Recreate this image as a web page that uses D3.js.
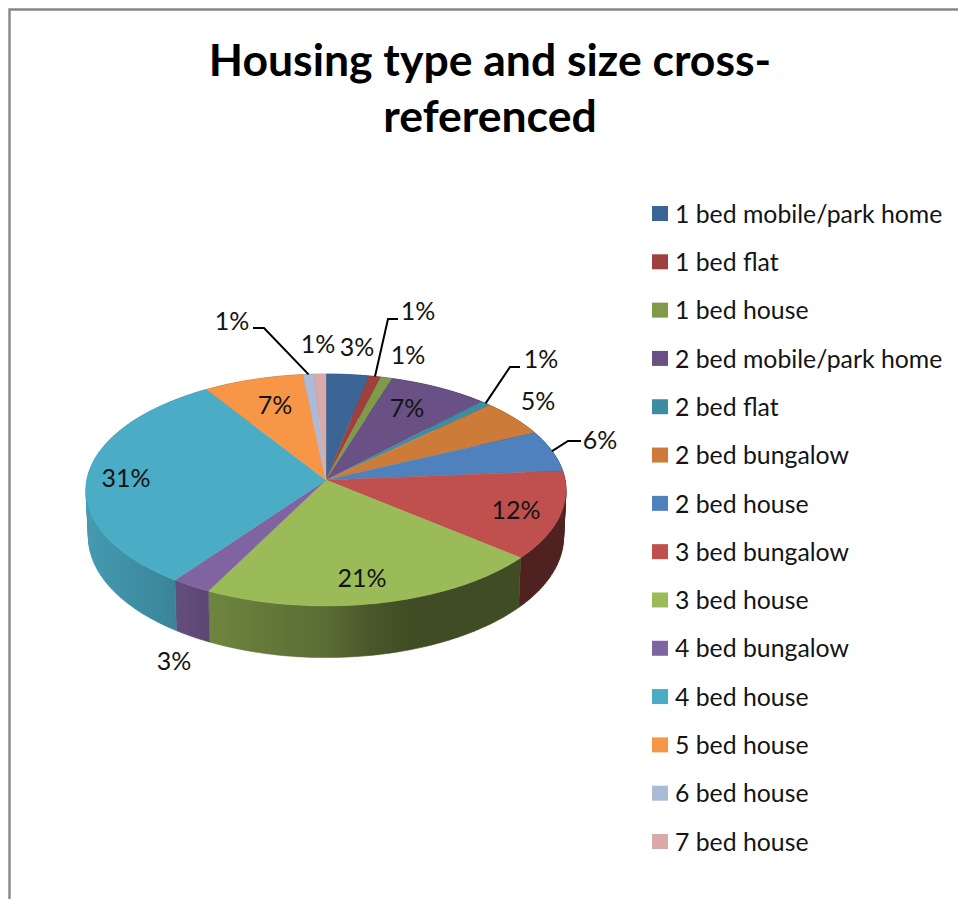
<!DOCTYPE html>
<html>
<head>
<meta charset="utf-8">
<script src="https://cdn.jsdelivr.net/npm/d3@7"></script>
<style>
  html, body { margin: 0; padding: 0; background: #fff; overflow: hidden; }
  text { font-family: Lato, "Open Sans", sans-serif; fill: #141414; }
</style>
</head>
<body>
<div id="chart"></div>
<script>
const categories = [
  "1 bed mobile/park home", "1 bed flat", "1 bed house",
  "2 bed mobile/park home", "2 bed flat", "2 bed bungalow", "2 bed house",
  "3 bed bungalow", "3 bed house", "4 bed bungalow", "4 bed house",
  "5 bed house", "6 bed house", "7 bed house"
];
const shares = [3.13, 0.87, 0.85, 7.29, 0.76, 5.09, 5.75, 12.29, 21.47, 2.5, 31.0, 7.33, 0.81, 0.86];
const colors = [
  "#3A6595", "#9E413E", "#7F9A48", "#695185", "#3C8DA3", "#CC7B38", "#4F81BD",
  "#C0504D", "#9BBB59", "#8064A2", "#4BACC6", "#F79646", "#AABAD7", "#D9AAA9"
];
const titleLines = ["Housing type and size cross-", "referenced"];

// data labels were dragged by hand in the original, so they sit in a layout table
const labelPos = [
  [357, 347], [418, 311], [408, 355], [407, 408], [541, 359], [538, 401], [600, 440],
  [516, 510], [362, 578], [174, 661], [126, 478], [275, 405], [232, 321], [318, 344]
];
// leader line elbows, keyed by slice index
const leaders = {
  1: [[388, 319], [398, 319]],
  4: [[510, 367], [520, 367]],
  6: [[568, 441], [581, 441]],
  12: [[264, 328], [253, 328]]
};

const width = 958;
const height = 899;

const svg = d3.select("#chart")
  .append("svg")
  .attr("width", width)
  .attr("height", height);

svg.append("rect").attr("width", width).attr("height", height).attr("fill", "#fff");

// chart area border, only top and left fall inside the crop
svg.append("path")
  .attr("d", `M9.5,${height} V9.5 H${width}`)
  .attr("fill", "none")
  .attr("stroke", "#868686")
  .attr("stroke-width", 2.4);

// perspective pie: the apex is not the centre of the rim ellipse
const apex = { x: 326, y: 480 };
const persp = 0.0862;
const scaleX = 239.1;
const scaleY = 115.1;

function project(t, r = 1) {
  const u = r * Math.sin(t);
  const v = r * Math.cos(t);
  const w = 1 + persp * v;
  return [apex.x + scaleX * u / w, apex.y - scaleY * v / w];
}

// rim point moved down to the bottom of the pie
function lower(p) {
  return [apex.x + (p[0] - apex.x) * 0.99, 537 + 1.04 * (p[1] - 490)];
}

function rimPoints(a) {
  const n = Math.max(2, Math.ceil((a.endAngle - a.startAngle) / 0.02));
  return d3.range(n + 1).map(i => project(a.startAngle + (a.endAngle - a.startAngle) * i / n));
}

// wall as a strip of quads so the silhouette at the far left and right stays straight
function wallPath(a) {
  const rim = rimPoints(a);
  return d3.range(rim.length - 1).map(i =>
    line([rim[i], rim[i + 1], lower(rim[i + 1]), lower(rim[i])]) + "Z"
  ).join("");
}

const line = d3.line();
const arcs = d3.pie().sort(null).value(d => d)(shares);
const total = d3.sum(shares);

// side walls get darker towards the right
const shade = [[85, 0.9], [176, 0.77], [210, 0.71], [326, 0.58], [370, 0.47], [410, 0.41], [566, 0.41]];
const defs = svg.append("defs");
const xFrac = d3.scaleLinear().domain([85, 566]).range([0, 1]);

colors.forEach((c, i) => {
  const grad = defs.append("linearGradient")
    .attr("id", `side${i}`)
    .attr("gradientUnits", "userSpaceOnUse")
    .attr("x1", 85).attr("x2", 566)
    .attr("y1", 0).attr("y2", 0);
  const base = d3.rgb(c);
  shade.forEach(s => {
    grad.append("stop")
      .attr("offset", xFrac(s[0]))
      .attr("stop-color", d3.rgb(base.r * s[1], base.g * s[1], base.b * s[1]).formatHex());
  });
});

const pie = svg.append("g");

pie.selectAll("path.side")
  .data(arcs)
  .join("path")
  .attr("class", "side")
  .attr("d", wallPath)
  .attr("fill", (a, i) => `url(#side${i})`)
  .attr("stroke", (a, i) => `url(#side${i})`)
  .attr("stroke-width", 0.5);

pie.selectAll("path.top")
  .data(arcs)
  .join("path")
  .attr("class", "top")
  .attr("d", a => line([[apex.x, apex.y]].concat(rimPoints(a))) + "Z")
  .attr("fill", (a, i) => colors[i])
  .attr("stroke", (a, i) => colors[i])
  .attr("stroke-width", 0.4);

// leader lines
Object.keys(leaders).forEach(k => {
  const a = arcs[k];
  const start = project((a.startAngle + a.endAngle) / 2);
  svg.append("path")
    .attr("d", line([start].concat(leaders[k])))
    .attr("fill", "none")
    .attr("stroke", "#000")
    .attr("stroke-width", 2);
});

// data labels
svg.selectAll("text.label")
  .data(arcs)
  .join("text")
  .attr("class", "label")
  .attr("x", (a, i) => labelPos[i][0])
  .attr("y", (a, i) => labelPos[i][1])
  .attr("dy", "0.35em")
  .attr("text-anchor", "middle")
  .style("font-size", "25px")
  .text(a => `${Math.round(a.value / total * 100)}%`);

// title
svg.selectAll("text.title")
  .data(titleLines)
  .join("text")
  .attr("class", "title")
  .attr("x", 490)
  .attr("y", (d, i) => 76 + i * 56)
  .attr("text-anchor", "middle")
  .style("font-size", "44.5px")
  .style("font-weight", "bold")
  .style("fill", "#000")
  .text(d => d);

// legend
const legendY = d3.scalePoint().domain(categories).range([214, 842]);

const legend = svg.selectAll("g.legend")
  .data(categories)
  .join("g")
  .attr("class", "legend")
  .attr("transform", d => `translate(652,${legendY(d)})`);

legend.append("rect")
  .attr("x", 0)
  .attr("y", -8)
  .attr("width", 16)
  .attr("height", 15)
  .attr("fill", (d, i) => colors[i]);

legend.append("text")
  .attr("x", 23)
  .attr("dy", "0.35em")
  .style("font-size", "24.8px")
  .text(d => d);
</script>
</body>
</html>
